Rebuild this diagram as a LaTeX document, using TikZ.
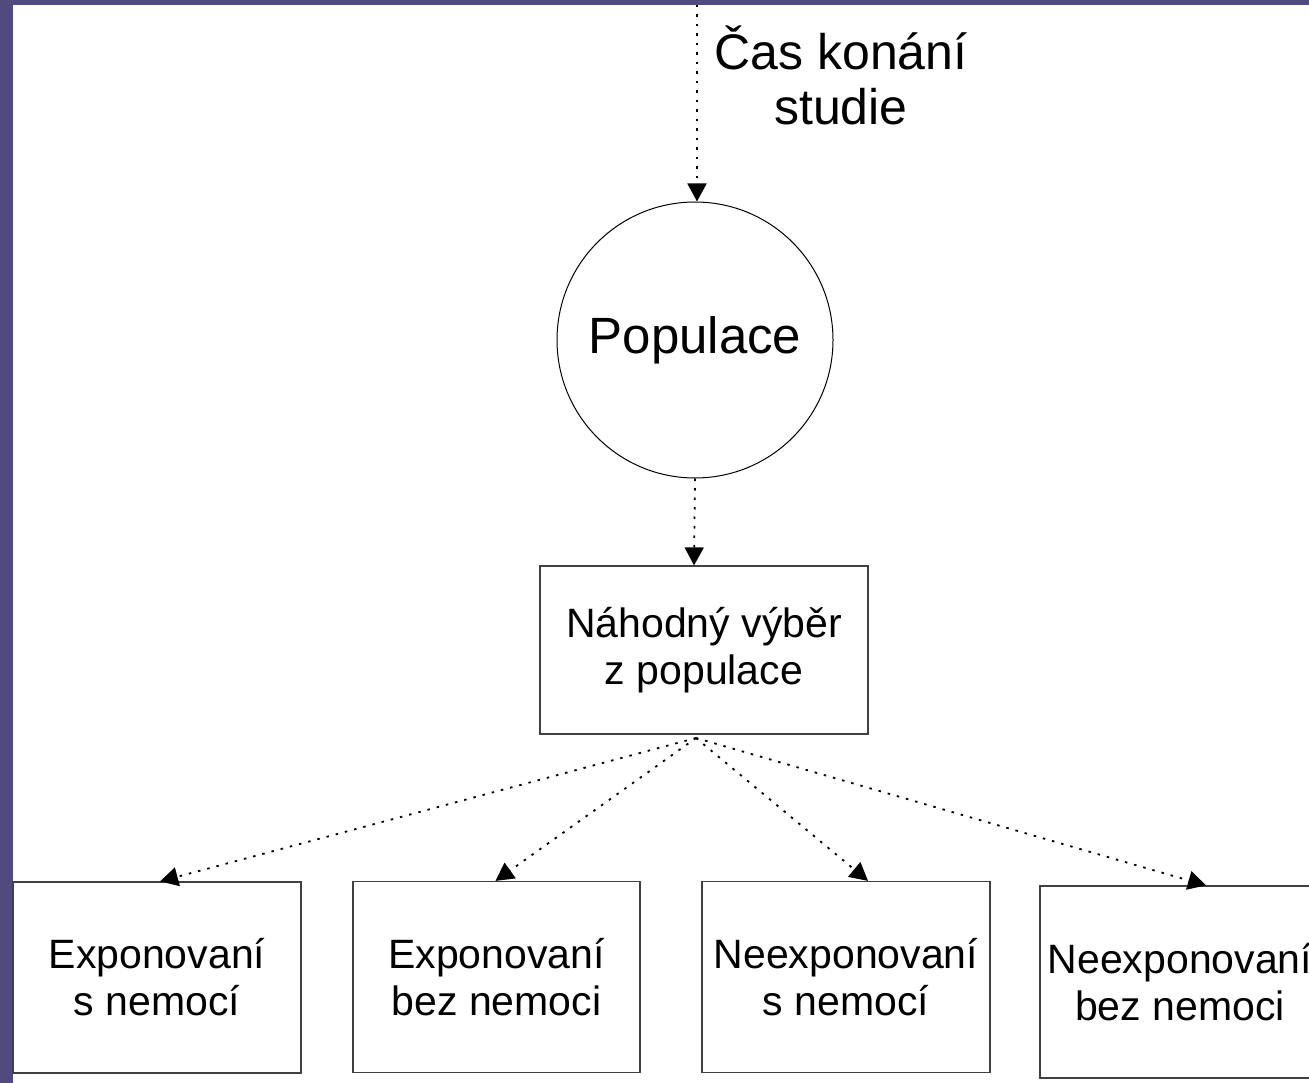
\documentclass[tikz,border=0pt]{standalone}
\usepackage{fontspec}
\setmainfont{Liberation Sans}
\usetikzlibrary{arrows.meta}
\definecolor{frame}{RGB}{80,74,126}
\tikzset{
  box/.style={draw=black!75,line width=1.2pt,minimum width=288pt,minimum height=191pt,
    align=center,inner sep=0pt,font=\fontsize{41}{47}\selectfont},
  link/.style={line width=1.8pt,dash pattern=on 2.5pt off 7pt,
    -{Triangle[length=18pt,width=19pt]}},
}
\begin{document}
\begin{tikzpicture}[x=1pt,y=-1pt]
      \useasboundingbox (0,0) rectangle (1309,1083);
      \clip (0,0) rectangle (1309,1083);
      \fill[white] (0,0) rectangle (1309,1083);
      \fill[frame] (0,0) rectangle (1309,5);
      \fill[frame] (0,0) rectangle (13,1083);
      \node[align=center,font=\fontsize{50}{55}\selectfont] (time) at (841,75) {Čas konání\\studie};
      \node[circle,draw,line width=1pt,minimum size=276pt,inner sep=0pt,
        font=\fontsize{51}{57}\selectfont] (pop) at (695,340) {Populace};
      \node[box,minimum width=328pt,minimum height=168pt] (sample) at (704,650) {Náhodný výběr\\z populace};
      \node[box] (exs) at (157,977.5) {Exponovaní\\s nemocí};
      \node[box,minimum width=287pt] (exb) at (496.5,977) {Exponovaní\\bez nemoci};
      \node[box] (nes) at (846,977) {Neexponovaní\\s nemocí};
      \node[box,minimum width=280pt,minimum height=192pt] (neb) at (1180,982) {Neexponovaní\\bez nemoci};
      \coordinate (start) at (697,5);
      \coordinate (fan) at (696,738);
      \draw[link] (start) -- (start |- pop.north);
      \draw[link] (pop.south) -- ([xshift=-10pt]sample.north);
      \foreach \n/\dx in {exs/3,exb/-1,nes/22,neb/26}{
        \draw[link] (fan) -- ([xshift=\dx pt]\n.north);
      }
    \end{tikzpicture}
\end{document}
